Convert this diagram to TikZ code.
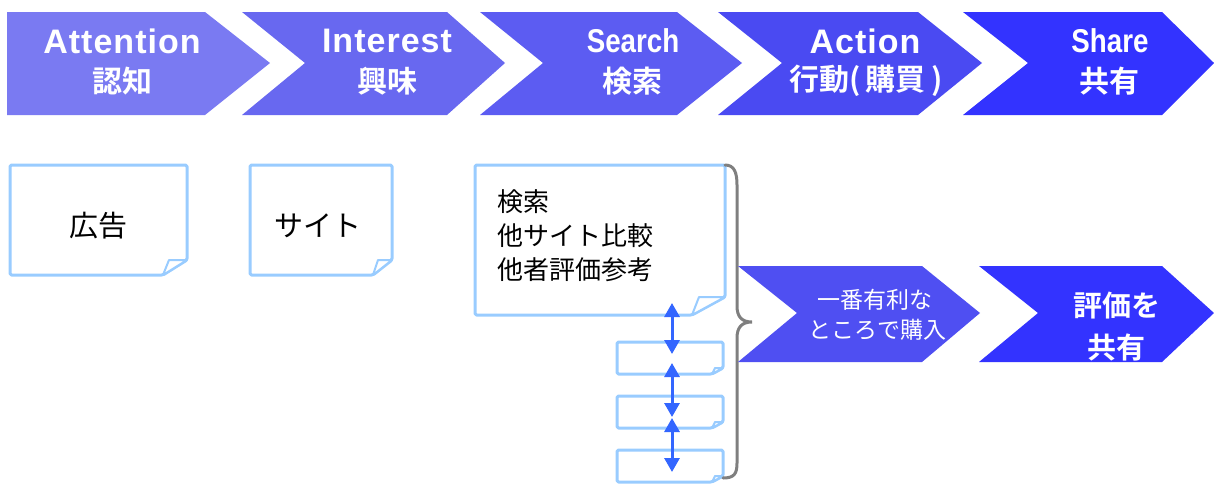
\documentclass[tikz,border=0pt]{standalone}
\usepackage{fontspec}
\setmainfont{Liberation Sans}[LetterSpace=3]
\newfontfamily\jpfont{Noto Sans CJK JP}[BoldFont={Noto Sans CJK JP Bold}]
\newfontfamily\narrowfont{Liberation Sans}[FakeStretch=0.84]
\usetikzlibrary{arrows.meta}
\definecolor{cA}{HTML}{7A7AF2}
\definecolor{cB}{HTML}{6868F0}
\definecolor{cC}{HTML}{5C5CF2}
\definecolor{cD}{HTML}{4A4AF2}
\definecolor{cE}{HTML}{3333FF}
\definecolor{cF}{HTML}{4F4FF2}
\definecolor{noteblue}{HTML}{99CCFF}
\definecolor{arrowblue}{HTML}{3366FF}
\definecolor{braceg}{HTML}{7F7F7F}
\newcommand\notebox[4]{% node, fold x, fold y, curl x
  \draw[notestyle] (#1.north west) -- (#1.north east) -- ([yshift=#3]#1.south east)
     -- ([xshift=-#2]#1.south east) -- (#1.south west) -- cycle;
  \draw[curlstyle] ([xshift=-#2]#1.south east) -- ([xshift=-#2+#4,yshift=#3]#1.south east)
     -- ([yshift=#3]#1.south east) -- cycle;
}
\begin{document}
\begin{tikzpicture}[x=1pt,y=-1pt,
  en/.style={text=white,font=\bfseries\fontsize{34}{36}\selectfont,inner sep=0pt},
  ennar/.style={text=white,font=\narrowfont\bfseries\fontsize{33}{36}\selectfont,inner sep=0pt},
  jp/.style={text=white,font=\jpfont\bfseries\fontsize{30}{32}\selectfont,inner sep=0pt},
  frame/.style={draw=none,inner sep=0pt,outer sep=0pt,anchor=north west},
  notestyle/.style={draw=noteblue,line width=3pt,fill=white,rounded corners=1.5pt,line join=round},
  curlstyle/.style={draw=noteblue,line width=2pt,fill=white,line join=round},
  notetext/.style={text=black,font=\jpfont\fontsize{29}{30}\selectfont,inner sep=0pt},
  listtext/.style={text=black,font=\jpfont\fontsize{26}{28}\selectfont,inner sep=0pt,anchor=west},
  dbl/.style={draw=arrowblue,line width=3pt,{Triangle[width=15pt,length=14pt]}-{Triangle[width=15pt,length=14pt]}},
  bracestyle/.style={draw=braceg,line width=3pt,line cap=round}]
\useasboundingbox (0,0) rectangle (1214,483);
% ---- top chevrons
\fill[cA] (7,12) -- (205,12) -- (270,63) -- (205,115) -- (7,115) -- cycle;
\fill[cB] (242,12) -- (447,12) -- (505,63) -- (447,115) -- (242,115) -- (305,63) -- cycle;
\fill[cC] (480,12) -- (677,12) -- (742,63) -- (677,115) -- (480,115) -- (543,63) -- cycle;
\fill[cD] (718,12) -- (918,12) -- (982,63) -- (918,115) -- (718,115) -- (782,63) -- cycle;
\fill[cE] (963,12) -- (1162,12) -- (1214,63) -- (1162,115) -- (963,115) -- (1028,63) -- cycle;
\node[en] (e1) at (122,41) {Attention};
\node[jp] (j1) at (122,81) {認知};
\node[en] (e2) at (387,41) {Interest};
\node[jp] (j2) at (387,81) {興味};
\node[ennar] (e3) at (633,41) {Search};
\node[jp] (j3) at (632,81) {検索};
\node[en] (e4) at (865,41) {Action};
\node[jp] (j4) at (866,81) {行動(\kern5pt 購買\kern5pt)};
\node[ennar] (e5) at (1110,41) {Share};
\node[jp] (j5) at (1109,81) {共有};
% ---- notes
\node[frame,minimum width=177pt,minimum height=110pt] (ad) at (10,165) {};
\notebox{ad}{24pt}{15pt}{6pt}
\node[notetext] (adt) at (98,226) {広告};
\node[frame,minimum width=142pt,minimum height=110pt] (site) at (250,165) {};
\notebox{site}{19pt}{15pt}{5pt}
\node[notetext] (sitet) at (318,226) {サイト};
\node[frame,minimum width=250pt,minimum height=150pt] (srch) at (475,165) {};
\notebox{srch}{33pt}{18pt}{7pt}
\node[listtext] (l1) at (497,202) {検索};
\node[listtext] (l2) at (497,236) {他サイト比較};
\node[listtext] (l3) at (497,270) {他者評価参考};
% ---- small pages
\node[frame,minimum width=106pt,minimum height=32pt] (p1) at (617,342) {};
\notebox{p1}{11pt}{6pt}{3pt}
\node[frame,minimum width=106pt,minimum height=32pt] (p2) at (617,396) {};
\notebox{p2}{11pt}{6pt}{3pt}
\node[frame,minimum width=106pt,minimum height=32pt] (p3) at (617,450) {};
\notebox{p3}{11pt}{6pt}{3pt}
% ---- arrows
\coordinate (ax) at (672,0);
\draw[dbl] ([yshift=12pt]srch.south -| ax) -- ([yshift=-12pt]p1.north -| ax);
\draw[dbl] ([yshift=11pt]p1.south -| ax) -- ([yshift=-21pt]p2.north -| ax);
\draw[dbl] ([yshift=10pt]p2.south -| ax) -- ([yshift=-22pt]p3.north -| ax);
% ---- brace
\draw[bracestyle] (srch.north east) .. controls (734,165) and (737,172) .. (737,185)
  -- (737,306) .. controls (737,317) and (742,322) .. (752,322)
  .. controls (742,322) and (737,327) .. (737,338)
  -- (737,463) .. controls (737,474) and (734,478) .. (723,478);
% ---- bottom chevrons
\fill[cF] (738,266) -- (922,266) -- (980,313) -- (922,362) -- (738,362) -- (797,313) -- cycle;
\fill[cE] (979,266) -- (1162,266) -- (1214,313) -- (1162,362) -- (979,362) -- (1038,313) -- cycle;
\node[text=white,font=\jpfont\fontsize{23}{25}\selectfont,inner sep=0pt] (b1) at (875,300) {一番有利な};
\node[text=white,font=\jpfont\fontsize{23}{25}\selectfont,inner sep=0pt] (b2) at (877,330) {ところで購入};
\node[jp,font=\jpfont\bfseries\fontsize{29}{31}\selectfont] (b3) at (1117,305) {評価を};
\node[jp,font=\jpfont\bfseries\fontsize{29}{31}\selectfont] (b4) at (1116,347) {共有};
\end{tikzpicture}
\end{document}
